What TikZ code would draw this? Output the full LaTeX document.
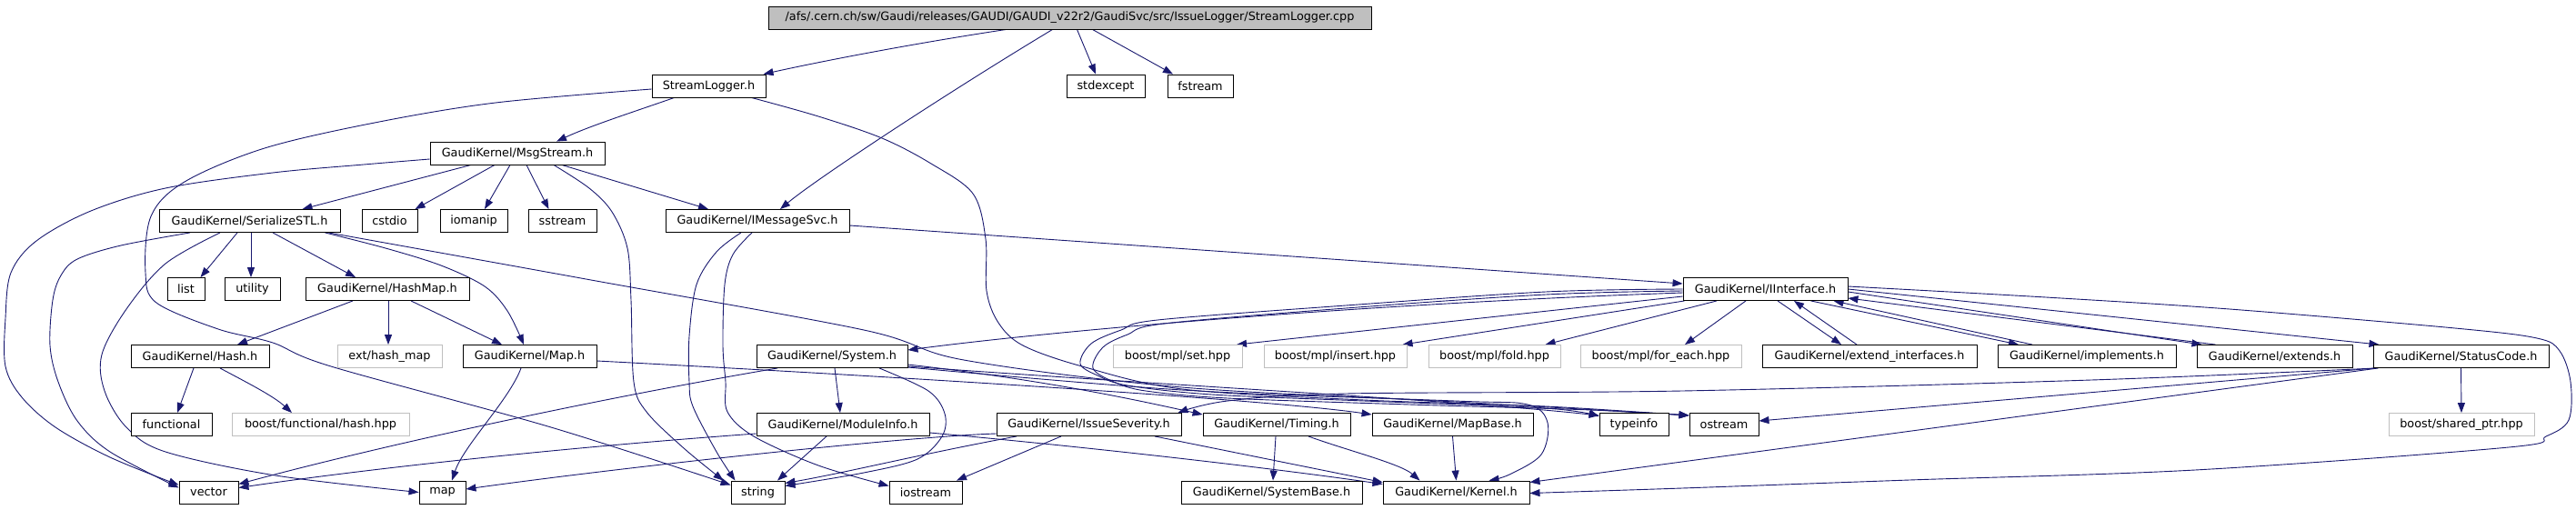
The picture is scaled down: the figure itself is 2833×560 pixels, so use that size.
\documentclass[tikz,border=0pt]{standalone}
\usepackage{fontspec}
\setmainfont{DejaVu Sans}
\usetikzlibrary{arrows.meta}
\definecolor{edgec}{HTML}{191970}
\definecolor{grayb}{HTML}{BFBFBF}
\pgfdeclarelayer{bg}
\pgfsetlayers{bg,main}
\begin{document}
\begin{tikzpicture}[x=1pt,y=-1pt,
  nd/.style={draw=black, fill=white, line width=0.9pt, minimum height=25pt, inner sep=0pt, font=\fontsize{12.8}{15}\selectfont, text=black},
  gnd/.style={nd, draw=grayb},
  rootnd/.style={nd, fill=grayb},
  ed/.style={draw=edgec, line width=0.9pt, -{Triangle[length=11pt,width=8pt]}},
  sm/.style={smooth, tension=0.55}]
\begin{pgfonlayer}{bg}
\fill[white] (0,0) rectangle (2833,560);
\end{pgfonlayer}
\useasboundingbox (0,0) rectangle (2833,560);
% row 0
\node[rootnd, minimum width=663pt] (root) at (1176.5,19.5) {/afs/.cern.ch/sw/Gaudi/releases/GAUDI/GAUDI\_v22r2/GaudiSvc/src/IssueLogger/StreamLogger.cpp};
% row 1
\node[nd, minimum width=125pt] (sl) at (779.5,94.5) {StreamLogger.h};
\node[nd, minimum width=86pt] (stdexc) at (1216,94.5) {stdexcept};
\node[nd, minimum width=72pt] (fstr) at (1320,94.5) {fstream};
% row 2
\node[nd, minimum width=192pt] (msg) at (569,168.5) {GaudiKernel/MsgStream.h};
% row 3
\node[nd, minimum width=199pt] (ser) at (274.5,243) {GaudiKernel/SerializeSTL.h};
\node[nd, minimum width=61pt] (cstdio) at (428.5,243) {cstdio};
\node[nd, minimum width=74pt] (iomanip) at (521,243) {iomanip};
\node[nd, minimum width=75pt] (sstream) at (618.5,243) {sstream};
\node[nd, minimum width=202pt] (imsg) at (833,243) {GaudiKernel/IMessageSvc.h};
% row 4
\node[nd, minimum width=41pt] (list) at (204.5,318) {list};
\node[nd, minimum width=61pt] (utility) at (277.5,318) {utility};
\node[nd, minimum width=180pt] (hashmap) at (426,318) {GaudiKernel/HashMap.h};
\node[nd, minimum width=181pt] (iif) at (1941.5,318) {GaudiKernel/IInterface.h};
% row 5
\node[nd, minimum width=152pt] (hash) at (220,392) {GaudiKernel/Hash.h};
\node[gnd, minimum width=115pt] (exthm) at (428.5,392) {ext/hash\_map};
\node[nd, minimum width=147pt] (mapH) at (582.5,392) {GaudiKernel/Map.h};
\node[nd, minimum width=166pt] (sys) at (915,392) {GaudiKernel/System.h};
\node[gnd, minimum width=142pt] (mplset) at (1295,392) {boost/mpl/set.hpp};
\node[gnd, minimum width=157pt] (mplins) at (1468.5,392) {boost/mpl/insert.hpp};
\node[gnd, minimum width=145pt] (mplfold) at (1643.5,392) {boost/mpl/fold.hpp};
\node[gnd, minimum width=177pt] (mplfe) at (1826.5,392) {boost/mpl/for\_each.hpp};
\node[nd, minimum width=236pt] (extif) at (2056,392) {GaudiKernel/extend\_interfaces.h};
\node[nd, minimum width=196pt] (impl) at (2295,392) {GaudiKernel/implements.h};
\node[nd, minimum width=171pt] (extends) at (2501.5,392) {GaudiKernel/extends.h};
\node[nd, minimum width=193pt] (sc) at (2706.5,392) {GaudiKernel/StatusCode.h};
% row 6
\node[nd, minimum width=89pt] (functional) at (188.5,467) {functional};
\node[gnd, minimum width=195pt] (bfh) at (352.5,467) {boost/functional/hash.hpp};
\node[nd, minimum width=190pt] (modinfo) at (927,467) {GaudiKernel/ModuleInfo.h};
\node[nd, minimum width=203pt] (sev) at (1197.5,467) {GaudiKernel/IssueSeverity.h};
\node[nd, minimum width=162pt] (timing) at (1404,467) {GaudiKernel/Timing.h};
\node[nd, minimum width=177pt] (mapbase) at (1597.5,467) {GaudiKernel/MapBase.h};
\node[nd, minimum width=76pt] (typeinfo) at (1797,467) {typeinfo};
\node[nd, minimum width=76pt] (ostream) at (1896,467) {ostream};
\node[gnd, minimum width=160pt] (shptr) at (2707,467) {boost/shared\_ptr.hpp};
% row 7
\node[nd, minimum width=65pt] (vector) at (229.5,541.5) {vector};
\node[nd, minimum width=51pt] (map) at (486.5,541.5) {map};
\node[nd, minimum width=59pt] (string) at (833.5,541.5) {string};
\node[nd, minimum width=80pt] (iostream) at (1018,541.5) {iostream};
\node[nd, minimum width=199pt] (sysbase) at (1398.5,541.5) {GaudiKernel/SystemBase.h};
\node[nd, minimum width=161pt] (kernel) at (1601.5,541.5) {GaudiKernel/Kernel.h};

\begin{pgfonlayer}{bg}
% root
\draw[ed] ([xshift=-70pt]root.south) .. controls (1010,47) and (910,66) .. ([xshift=60pt]sl.north);
\draw[ed] ([xshift=8pt]root.south) -- ([xshift=-11pt]stdexc.north);
\draw[ed] ([xshift=25pt]root.south) -- ([xshift=-30pt]fstr.north);
\draw[ed] ([xshift=-19pt]root.south) .. controls (1050,97) and (900,195) .. ([xshift=25pt]imsg.north);
% StreamLogger
\draw[ed] ([xshift=-38pt]sl.south) .. controls (700,122) and (650,138) .. ([xshift=43pt]msg.north);
\draw[ed] plot[sm] coordinates {([yshift=-3.5pt]sl.west) (545,113) (412,135) (291,163) (203,200) (166,238) (160,300) (172,333) (240,362) (300,377) (364,403) (606,470) ([yshift=8pt]string.west)};
\draw[ed] plot[sm] coordinates {([xshift=47pt]sl.south) (900,128) (970,152) (1024,180) (1070,213) (1084,263) (1085,320) (1098,355) (1125,380) (1190,403) (1300,428) (1500,440) (1700,447) ([yshift=10pt]ostream.west)};
% MsgStream
\draw[ed] ([xshift=-51pt]msg.south) -- ([xshift=58pt]ser.north);
\draw[ed] ([xshift=-25pt]msg.south) -- ([xshift=28pt]cstdio.north);
\draw[ed] ([xshift=-8pt]msg.south) -- ([xshift=12pt]iomanip.north);
\draw[ed] ([xshift=10pt]msg.south) -- ([xshift=-15pt]sstream.north);
\draw[ed] ([xshift=49pt]msg.south) -- ([xshift=-54pt]imsg.north);
\draw[ed] plot[sm] coordinates {([xshift=40pt]msg.south) (648,207) (673,233) (690,273) (694,330) (697,420) (711,453) (752,493) ([xshift=-38pt]string.north)};
\draw[ed] plot[sm] coordinates {([yshift=-6.5pt]msg.west) (400,181) (300,190) (182,207) (100,232) (40,265) (12,300) (6,350) (6,403) (24,437) (61,470) (121,503) ([yshift=8pt]vector.west)};
% SerializeSTL
\draw[ed] ([xshift=-13.5pt]ser.south) -- ([xshift=16pt]list.north);
\draw[ed] ([xshift=1.5pt]ser.south) -- ([xshift=-1.5pt]utility.north);
\draw[ed] ([xshift=25.5pt]ser.south) -- ([xshift=-35pt]hashmap.north);
\draw[ed] plot[sm] coordinates {([xshift=83pt]ser.south) (424,273) (485,292) (533,315) (558,342) ([xshift=-6.5pt]mapH.north)};
\draw[ed] plot[sm] coordinates {([xshift=87pt]ser.south) (650,308) (950,363) (1060,396) (1300,426) (1600,442) ([yshift=10pt]ostream.west)};
\draw[ed] plot[sm] coordinates {([xshift=-65.5pt]ser.south) (133,270) (85,285) (67,303) (58,330) (55,380) (64,420) (85,463) (121,497) ([yshift=5pt]vector.west)};
\draw[ed] plot[sm] coordinates {([xshift=-32.5pt]ser.south) (182,290) (139,340) (112,390) (115,430) (139,470) (182,497) (303,523) (map.west)};
% HashMap, Hash, Map
\draw[ed] ([xshift=-38pt]hashmap.south) -- ([xshift=41pt]hash.north);
\draw[ed] ([xshift=1pt]hashmap.south) -- ([xshift=-1.5pt]exthm.north);
\draw[ed] ([xshift=26pt]hashmap.south) -- ([xshift=-30.5pt]mapH.north);
\draw[ed] ([xshift=-7pt]hash.south) -- ([xshift=6.5pt]functional.north);
\draw[ed] ([xshift=22pt]hash.south) .. controls (270,420) and (300,435) .. ([xshift=-31.5pt]bfh.north);
\draw[ed] ([xshift=-9.5pt]mapH.south) .. controls (560,440) and (510,490) .. ([xshift=10.5pt]map.north);
\draw[ed] ([yshift=-5pt]mapH.east) .. controls (1000,415) and (1400,440) .. ([yshift=11pt]mapbase.west);
% MapBase, Timing, IssueSeverity, ModuleInfo
\draw[ed] (mapbase.south) -- (kernel.north);
\draw[ed] ([xshift=-1pt]timing.south) -- ([xshift=1.5pt]sysbase.north);
\draw[ed] ([xshift=35pt]timing.south) .. controls (1480,495) and (1540,510) .. ([xshift=-40pt]kernel.north);
\draw[ed] ([xshift=72.5pt]sev.south) -- ([yshift=11pt]kernel.west);
\draw[ed] ([xshift=-30.5pt]sev.south) -- ([xshift=34pt]iostream.north);
\draw[ed] ([xshift=-79.5pt]sev.south) .. controls (1010,500) and (930,520) .. ([yshift=10pt]string.east);
\draw[ed] ([yshift=-10pt]sev.west) .. controls (1000,480) and (700,512) .. ([yshift=3.5pt]map.east);
\draw[ed] ([yshift=-10pt]modinfo.west) .. controls (650,490) and (430,512) .. ([yshift=5pt]vector.east);
\draw[ed] ([xshift=-18pt]modinfo.south) -- ([xshift=21.5pt]string.north);
\draw[ed] ([yshift=-9pt]modinfo.east) .. controls (1200,492) and (1400,515) .. ([yshift=9pt]kernel.west);
% System
\draw[ed] ([xshift=3pt]sys.south) -- ([xshift=-3pt]modinfo.north);
\draw[ed] ([xshift=-60pt]sys.south) .. controls (650,440) and (420,490) .. ([yshift=9pt]vector.east);
\draw[ed] plot[sm] coordinates {([xshift=52pt]sys.south) (1021,430) (1039,455) (1036,480) (1009,505) (950,520) ([yshift=7pt]string.east)};
\draw[ed] ([yshift=-9pt]sys.east) .. controls (1150,418) and (1250,440) .. ([yshift=11pt]timing.west);
\draw[ed] ([yshift=-11pt]sys.east) .. controls (1300,425) and (1600,440) .. ([yshift=10pt]typeinfo.west);
\draw[ed] plot[sm] coordinates {([yshift=-12pt]sys.east) (1300,429) (1600,441) (1680,445) (1702,465) (1695,500) (1660,522) ([xshift=36pt]kernel.north)};
% IInterface
\draw[ed] ([yshift=-4pt]iif.west) .. controls (1480,335) and (1150,365) .. ([yshift=7pt]sys.east);
\draw[ed] ([yshift=-8pt]iif.west) -- ([xshift=65pt]mplset.north);
\draw[ed] ([xshift=2pt]iif.south west) -- ([xshift=74pt]mplins.north);
\draw[ed] ([xshift=-53.5pt]iif.south) -- ([xshift=56pt]mplfold.north);
\draw[ed] ([xshift=-21.5pt]iif.south) -- ([xshift=26.5pt]mplfe.north);
\draw[ed] ([xshift=13.5pt]iif.south) -- ([xshift=-31pt]extif.north);
\draw[ed] ([xshift=-14pt]extif.north) -- ([xshift=31.5pt]iif.south);
\draw[ed] ([xshift=50pt]iif.south) -- ([xshift=-75pt]impl.north);
\draw[ed] ([xshift=-60pt]impl.north) -- ([xshift=75pt]iif.south);
\draw[ed] ([yshift=-3pt]iif.east) -- ([xshift=-80pt]extends.north);
\draw[ed] ([xshift=-65pt]extends.north) -- ([yshift=-10pt]iif.east);
\draw[ed] (iif.east) -- ([xshift=-90pt]sc.north);
\draw[ed] plot[sm] coordinates {([yshift=3pt]iif.east) (2250,327) (2452,340) (2700,361) (2790,372) (2815,386) (2827,420) (2825,462) (2800,480) (2759,492) (2414,517) (2100,528) (1850,537) ([yshift=-1pt]kernel.east)};
\draw[ed] plot[sm] coordinates {([yshift=0pt]iif.west) (1700,321) (1480,336) (1273,352) (1233,363) (1200,378) (1188,400) (1207,413) (1240,424) (1333,434) (1500,441) (1700,449) ([yshift=9pt]typeinfo.west)};
\draw[ed] plot[sm] coordinates {([yshift=-2pt]iif.west) (1700,324) (1480,339) (1280,356) (1240,368) (1213,382) (1202,405) (1225,420) (1260,430) (1350,438) (1550,445) (1750,451) ([yshift=10pt]ostream.west)};
% IMessageSvc
\draw[ed] ([yshift=-5pt]imsg.east) -- ([yshift=6pt]iif.west);
\draw[ed] plot[sm] coordinates {([xshift=-18pt]imsg.south) (788,277) (766,313) (758,370) (758,420) (762,447) (788,497) ([xshift=-25pt]string.north)};
\draw[ed] plot[sm] coordinates {([xshift=-6pt]imsg.south) (806,280) (797,313) (795,380) (798,420) (800,453) (829,480) (900,512) ([yshift=7pt]iostream.west)};
% StatusCode
\draw[ed] ([xshift=2pt]sc.south west) -- ([yshift=4pt]ostream.east);
\draw[ed] plot[sm] coordinates {([xshift=4pt]sc.south west) (2300,418) (1850,430) (1480,433) (1350,441) ([xshift=-4pt]sev.north east)};
\draw[ed] ([xshift=6pt]sc.south west) -- ([yshift=11pt]kernel.east);
\draw[ed] (sc.south) -- (shptr.north);
\end{pgfonlayer}
\end{tikzpicture}
\end{document}
